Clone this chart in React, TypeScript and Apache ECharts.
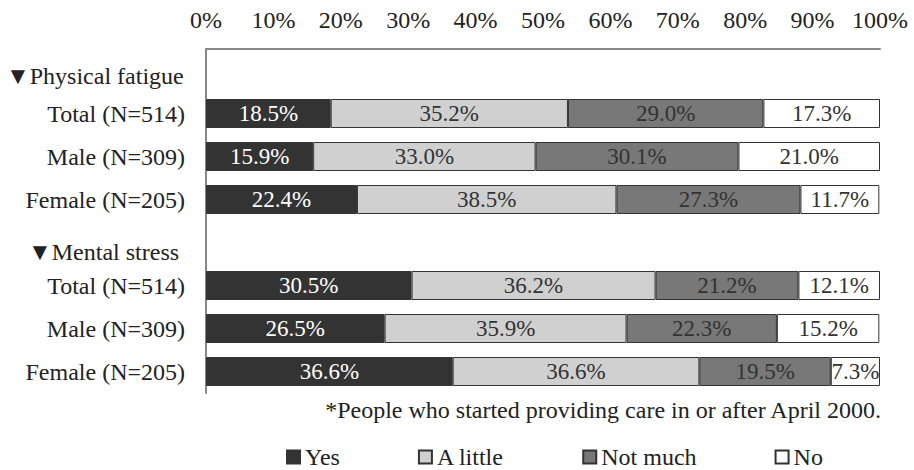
import React, { useEffect, useRef } from "react";
import * as echarts from "echarts";

const categories = [
  "▼Physical fatigue",
  "Total (N=514)",
  "Male (N=309)",
  "Female (N=205)",
  "▼Mental stress",
  "Total (N=514)",
  "Male (N=309)",
  "Female (N=205)",
];
const headerRows = [0, 4];
const seriesNames = ["Yes", "A little", "Not much", "No"];
const yesValues = [null, 18.5, 15.9, 22.4, null, 30.5, 26.5, 36.6];
const aLittleValues = [null, 35.2, 33.0, 38.5, null, 36.2, 35.9, 36.6];
const notMuchValues = [null, 29.0, 30.1, 27.3, null, 21.2, 22.3, 19.5];
const noValues = [null, 17.3, 21.0, 11.7, null, 12.1, 15.2, 7.3];
const footnote = "*People who started providing care in or after April 2000.";

const FONT = "'Liberation Serif', 'Times New Roman', serif";
const colors = ["#333333", "#d0d0d0", "#787878", "#ffffff"];
const labelColors = ["#ffffff", "#333333", "#333333", "#333333"];

export default function App() {
  const ref = useRef<HTMLDivElement>(null);
  useEffect(() => {
    if (!ref.current) return;
    const chart = echarts.init(ref.current, null, { renderer: "svg" });
    const allValues = [yesValues, aLittleValues, notMuchValues, noValues];
    chart.setOption({
      animation: false,
      backgroundColor: "#ffffff",
      textStyle: { fontFamily: FONT },
      grid: { left: 206, right: 34, top: 49, bottom: 77, containLabel: false },
      xAxis: {
        type: "value",
        position: "top",
        min: 0,
        max: 100,
        interval: 10,
        axisLine: { show: true, lineStyle: { color: "#888888", width: 2 } },
        axisTick: { show: false },
        splitLine: { show: false },
        axisLabel: {
          formatter: "{value}%",
          fontSize: 24,
          fontFamily: FONT,
          color: "#222222",
          margin: 17,
        },
      },
      yAxis: {
        type: "category",
        inverse: true,
        data: categories,
        axisLine: { show: true, lineStyle: { color: "#888888", width: 2 } },
        axisTick: { show: false },
        axisLabel: {
          fontSize: 24,
          fontFamily: FONT,
          color: "#222222",
          margin: 21,
          padding: [0, 0, 11, 0],
          formatter: (v: string, i: number) => (headerRows.includes(i) ? "" : v),
        },
      },
      legend: {
        top: 440,
        left: 281,
        padding: 5,
        itemWidth: 13,
        itemHeight: 13,
        itemGap: 78,
        icon: "rect",
        textStyle: { fontSize: 24, fontFamily: FONT, color: "#222222", lineHeight: 24 },
        data: seriesNames,
      },
      graphic: [
        {
          type: "text",
          x: 6,
          y: 76,
          style: {
            text: categories[headerRows[0]],
            font: `24px ${FONT}`,
            fill: "#222222",
            verticalAlign: "middle",
          },
        },
        {
          type: "text",
          x: 28,
          y: 252,
          style: {
            text: categories[headerRows[1]],
            font: `24px ${FONT}`,
            fill: "#222222",
            verticalAlign: "middle",
          },
        },
        {
          type: "text",
          x: 881,
          y: 410,
          style: {
            text: footnote,
            font: `24px ${FONT}`,
            fill: "#222222",
            align: "right",
            verticalAlign: "middle",
          },
        },
      ],
      series: seriesNames.map((name, si) => ({
        name,
        type: "bar",
        stack: "total",
        barWidth: 29,
        data: allValues[si],
        itemStyle: { color: colors[si], borderColor: "#333333", borderWidth: 1 },
        label: {
          show: true,
          position: "inside",
          fontSize: 23,
          fontFamily: FONT,
          color: labelColors[si],
          formatter: (p: any) =>
            p.value == null ? "" : Number(p.value).toFixed(1) + "%",
        },
      })),
    });
    return () => chart.dispose();
  }, []);
  return (
    <div
      ref={ref}
      style={{ position: "absolute", left: 0, top: 0, width: 914, height: 470 }}
    />
  );
}
